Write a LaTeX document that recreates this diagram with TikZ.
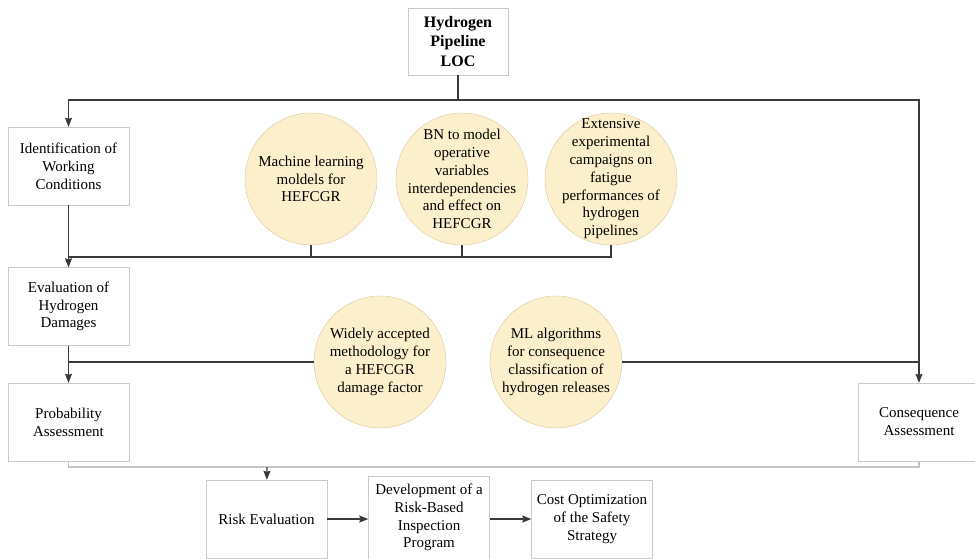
\documentclass[tikz,border=0pt]{standalone}
\usepackage{fontspec}
\setmainfont{Liberation Serif}
\usetikzlibrary{arrows.meta}
\definecolor{boxgray}{HTML}{CACACA}
\definecolor{linegray}{HTML}{3A3A3A}
\definecolor{litegray}{HTML}{C4C4C4}
\definecolor{blobfill}{HTML}{FCEFCB}
\definecolor{blobrim}{HTML}{D8C8A0}

\begin{document}
\begin{tikzpicture}[x=1pt,y=-1pt,
    box/.style={draw=boxgray,fill=white,minimum width=121pt,minimum height=78pt,
      align=center,inner sep=2pt,font=\fontsize{15}{17.8}\selectfont},
    blob/.style={circle,draw=blobrim,fill=blobfill,minimum size=132pt,inner sep=-25pt,
      align=center,font=\fontsize{15}{17.8}\selectfont},
    link/.style={draw=linegray,line width=1.1pt},
    arr/.style={link,-{Stealth[length=9pt,width=7pt,inset=1pt]}},
    lite/.style={draw=litegray,line width=1.1pt}]
  \useasboundingbox (0,0) rectangle (975,559);
  % boxes
  \node[box,font=\bfseries\fontsize{16}{19.5}\selectfont,minimum width=100pt,
    minimum height=67pt] (loc) at (458,41.5) {Hydrogen\\Pipeline\\LOC};
  \node[box] (ident) at (68.5,166) {Identification of\\Working\\Conditions};
  \node[box] (evalh) at (68.5,306.5) {Evaluation of\\Hydrogen\\Damages};
  \node[box] (prob) at (68.5,422) {Probability\\Assessment};
  \node[box] (cons) at (919,422) {Consequence\\Assessment};
  \node[box] (risk) at (266.5,519) {Risk Evaluation};
  \node[box,minimum height=83pt] (rbi) at (429,517.5)
    {Development of a\\Risk-Based\\Inspection\\Program};
  \node[box] (cost) at (592,519) {Cost Optimization\\of the Safety\\Strategy};
  % research contributions
  \node[blob] (ml) at (311,179) {Machine learning\\moldels for\\HEFCGR};
  \node[blob] (bn) at (462,179)
    {BN to model\\operative\\variables\\interdependencies\\and effect on\\HEFCGR};
  \node[blob] (exper) at (611,179)
    {Extensive\\experimental\\campaigns on\\fatigue\\performances of\\hydrogen\\pipelines};
  \node[blob] (wam) at (380,362)
    {Widely accepted\\methodology for\\a HEFCGR\\damage factor};
  \node[blob] (mlc) at (556,362)
    {ML algorithms\\for consequence\\classification of\\hydrogen releases};
  % connectors
  \coordinate (split) at (458,100);
  \coordinate (merge) at (68,257);
  \coordinate (join) at (267,467);
  \draw[link] (loc) -- (split);
  \draw[arr] (split) -| (ident);
  \draw[arr] (split) -| (cons);
  \draw[arr] (ident) -- (evalh);
  \draw[link] (exper) |- (merge);
  \draw[link] (ml) -- (ml|-merge);
  \draw[link] (bn) -- (bn|-merge);
  \draw[arr] (evalh) -- (prob);
  \draw[link] (wam) -- (wam-|evalh);
  \draw[link] (mlc) -- (mlc-|cons);
  \draw[lite] (prob) |- (join) -| (cons);
  \draw[arr] (join) -- (risk);
  \draw[arr] (risk.east) -- (risk.east-|rbi.west);
  \draw[arr] (rbi.east|-cost.west) -- (cost.west);
\end{tikzpicture}
\end{document}
